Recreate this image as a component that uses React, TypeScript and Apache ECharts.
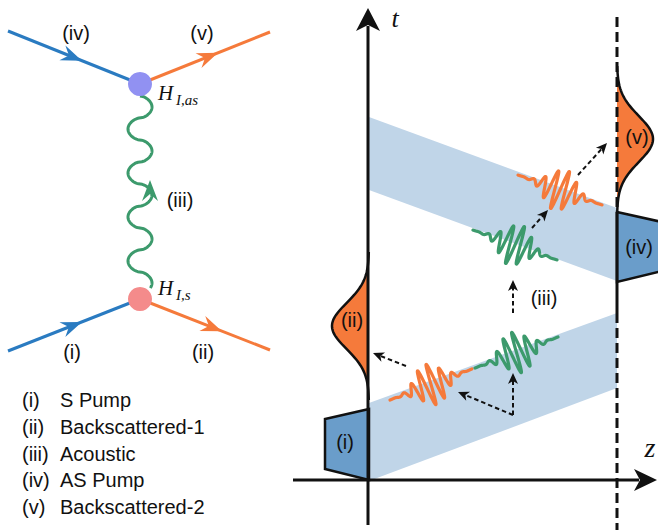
import React, { useEffect, useRef } from 'react';
import * as echarts from 'echarts';

// ---- Diagram values (x to the right, y downwards, on a hidden 658 x 530 value grid) ----
// Feynman diagram: fermion lines [x0, y0, x1, y1, arrow position along line]
const fermionLines = [
  [8, 31, 140, 84, 0.56],
  [140, 84, 270, 32, 0.6],
  [8, 351, 140, 299, 0.56],
  [140, 299, 270, 350, 0.63],
];
const fermionKinds = ['pump', 'back', 'pump', 'back'];
const vertices = [
  [140, 84],
  [140, 299],
];
// phonon line [x, yTop, yBottom, amplitude, wavelength]
const phonon = [140, 96, 288, 12, 44];
const phononArrowY = [180, 201];

// Space-time diagram
const bandUpper = [[369, 117], [617, 208], [617, 281], [369, 190]];
const bandLower = [[369, 481], [617, 388], [617, 313], [369, 403]];
const boxSPump = [[369, 409], [325, 419], [325, 469], [369, 480]];
const boxASPump = [[617, 212], [662, 222], [662, 271], [617, 282]];
// Gaussian pulses [baseX, centreY, sigma, amplitude, yFrom, yTo]
const pulseBack1 = [369, 326, 23, -37, 252, 400];
const pulseBack2 = [617, 139, 23, 36, 66, 212];
// wave packets [x0, y0, x1, y1, amplitude, wavelength, envelope sigma]
const packets = [
  [390, 400, 472, 369, 21, 10.5, 13],
  [475, 368, 558, 337, 21, 10.5, 13],
  [518, 175, 602, 205, 21, 10.5, 13],
  [473, 230, 557, 260, 21, 10.5, 13],
];
const packetKinds = ['back', 'acoustic', 'back', 'acoustic'];
// dashed arrows [x0, y0, tipX, tipY]
const dashedArrows = [
  [532, 228, 548, 210],
  [578, 175, 607, 143],
  [513, 313, 513, 280],
  [513, 415, 513, 373],
  [513, 415, 458, 392],
  [406, 366, 373, 353],
];
// axes
const tAxis = [368, 525, 8];
const zAxis = [480, 293, 657];
const boundary = [617, 17, 530, 212, 313];

// texts
const legendTags = ['(i)', '(ii)', '(iii)', '(iv)', '(v)'];
const legendNames = ['S Pump', 'Backscattered-1', 'Acoustic', 'AS Pump', 'Backscattered-2'];
const feynLabels = ['(iv)', '(v)', '(i)', '(ii)', '(iii)'];
const feynLabelPos = [[76, 33], [202, 33], [72, 352], [203, 352], [180, 200]];
const stLabels = ['(ii)', '(i)', '(iv)', '(v)', '(iii)'];
const stLabelPos = [[352, 320], [345, 442], [639, 247], [637, 137], [544, 298]];

const C = {
  pump: '#2a7bc1',
  back: '#f57a3b',
  acoustic: '#3c9a6c',
  band: '#c0d5e8',
  box: '#6a9dca',
  vTop: '#9191f2',
  vBottom: '#f48b8b',
  ink: '#111111',
};
const SANS = 'Liberation Sans, Arial, sans-serif';
const SERIF = 'Liberation Serif, Times New Roman, serif';

function arrowHead(api: any, tip: number[], ux: number, uy: number, len: number, half: number, notch: number, fill: string) {
  const nx = -uy, ny = ux;
  const bx = tip[0] - ux * len, by = tip[1] - uy * len;
  const pts = [
    [tip[0], tip[1]],
    [bx + nx * half, by + ny * half],
    [tip[0] - ux * notch, tip[1] - uy * notch],
    [bx - nx * half, by - ny * half],
  ].map((p) => api.coord(p));
  return { type: 'polygon', shape: { points: pts }, style: { fill, stroke: null } };
}

function renderAll(params: any, api: any) {
  const ch: any[] = [];
  const P = (x: number, y: number) => api.coord([x, y]);

  // bands
  [bandUpper, bandLower].forEach((b) => {
    ch.push({ type: 'polygon', shape: { points: b.map((p) => P(p[0], p[1])) }, style: { fill: C.band } });
  });
  // pump boxes
  [boxSPump, boxASPump].forEach((b) => {
    ch.push({
      type: 'polygon',
      shape: { points: b.map((p) => P(p[0], p[1])) },
      style: { fill: C.box, stroke: C.ink, lineWidth: 2.5, lineJoin: 'miter' },
    });
  });
  // gaussian pulses
  [pulseBack1, pulseBack2].forEach((g) => {
    const [bx, cy, sg, amp, y0, y1] = g;
    const curve: number[][] = [];
    for (let i = 0; i <= 120; i++) {
      const y = y0 + ((y1 - y0) * i) / 120;
      curve.push(P(bx + amp * Math.exp(-0.5 * ((y - cy) / sg) ** 2), y));
    }
    ch.push({ type: 'polygon', shape: { points: [P(bx, y0), ...curve, P(bx, y1)] }, style: { fill: C.back } });
    ch.push({ type: 'polyline', shape: { points: curve }, style: { fill: 'none', stroke: C.ink, lineWidth: 2.5 } });
  });
  // t axis
  {
    const [x, yb, yt] = tAxis;
    ch.push({ type: 'line', shape: { x1: P(x, yb)[0], y1: P(x, yb)[1], x2: P(x, yt + 18)[0], y2: P(x, yt + 18)[1] }, style: { stroke: C.ink, lineWidth: 3 } });
    ch.push(arrowHead(api, [x, yt], 0, -1, 23, 12, 17, C.ink));
  }
  // z axis
  {
    const [y, xl, xr] = zAxis;
    ch.push({ type: 'line', shape: { x1: P(xl, y)[0], y1: P(xl, y)[1], x2: P(xr - 18, y)[0], y2: P(xr - 18, y)[1] }, style: { stroke: C.ink, lineWidth: 3 } });
    ch.push(arrowHead(api, [xr, y], 1, 0, 23, 11, 17, C.ink));
  }
  // boundary line (dashed / solid / dashed)
  {
    const [x, yt, yb, s0, s1] = boundary;
    const seg = (a: number, b: number, dash: any) =>
      ch.push({ type: 'line', shape: { x1: P(x, a)[0], y1: P(x, a)[1], x2: P(x, b)[0], y2: P(x, b)[1] }, style: { stroke: C.ink, lineWidth: 3, lineDash: dash } });
    seg(yt, s0, [10, 5]);
    seg(s0, s1, null);
    seg(s1, yb, [10, 5]);
  }
  // wave packets
  packets.forEach((p, k) => {
    const [x0, y0, x1, y1, amp, wl, sg] = p;
    const dx = x1 - x0, dy = y1 - y0, L = Math.hypot(dx, dy);
    const ux = dx / L, uy = dy / L, nx = uy, ny = -ux;
    const pts: number[][] = [];
    for (let i = 0; i <= 400; i++) {
      const s = (L * i) / 400;
      const d = s - L / 2;
      const off = amp * Math.exp(-0.5 * (d / sg) ** 2) * Math.sin((2 * Math.PI * d) / wl);
      pts.push(P(x0 + ux * s + nx * off, y0 + uy * s + ny * off));
    }
    ch.push({ type: 'polyline', shape: { points: pts }, style: { fill: 'none', stroke: (C as any)[packetKinds[k]], lineWidth: 3.2, lineJoin: 'round', lineCap: 'round' } });
  });
  // dashed arrows
  dashedArrows.forEach((a) => {
    const [x0, y0, x1, y1] = a;
    const L = Math.hypot(x1 - x0, y1 - y0);
    const ux = (x1 - x0) / L, uy = (y1 - y0) / L;
    const e = P(x1 - ux * 6, y1 - uy * 6);
    const s = P(x0, y0);
    ch.push({ type: 'line', shape: { x1: s[0], y1: s[1], x2: e[0], y2: e[1] }, style: { stroke: C.ink, lineWidth: 2, lineDash: [4.5, 3] } });
    ch.push(arrowHead(api, [x1, y1], ux, uy, 11, 5, 8, C.ink));
  });

  // ---- Feynman diagram ----
  fermionLines.forEach((f, k) => {
    const [x0, y0, x1, y1, fr] = f;
    const col = (C as any)[fermionKinds[k]];
    const a = P(x0, y0), b = P(x1, y1);
    ch.push({ type: 'line', shape: { x1: a[0], y1: a[1], x2: b[0], y2: b[1] }, style: { stroke: col, lineWidth: 3 } });
    const L = Math.hypot(x1 - x0, y1 - y0);
    const ux = (x1 - x0) / L, uy = (y1 - y0) / L;
    ch.push(arrowHead(api, [x0 + (x1 - x0) * fr, y0 + (y1 - y0) * fr], ux, uy, 21, 8, 14, col));
  });
  {
    const [x, yt, yb, amp, wl] = phonon;
    const pts: number[][] = [];
    for (let i = 0; i <= 400; i++) {
      const y = yt + ((yb - yt) * i) / 400;
      const s = Math.sin((2 * Math.PI * (y - yt)) / wl);
      pts.push(P(x + amp * Math.sign(s) * Math.pow(Math.abs(s), 0.55), y));
    }
    ch.push({ type: 'polyline', shape: { points: pts }, style: { fill: 'none', stroke: C.acoustic, lineWidth: 3, lineJoin: 'round' } });
    ch.push(arrowHead(api, [x + 10, phononArrowY[0]], 0, -1, phononArrowY[1] - phononArrowY[0], 8, 14, C.acoustic));
  }
  vertices.forEach((v, k) => {
    const c = P(v[0], v[1]);
    ch.push({ type: 'circle', shape: { cx: c[0], cy: c[1], r: 12 }, style: { fill: k === 0 ? C.vTop : C.vBottom } });
  });

  // ---- texts ----
  const txt = (t: string, x: number, y: number, size: number, family: string, extra: any = {}) => {
    const p = P(x, y);
    ch.push({ type: 'text', x: p[0], y: p[1], style: { text: t, fontSize: size, fontFamily: family, fill: C.ink, align: 'center', verticalAlign: 'middle', ...extra } });
  };
  feynLabels.forEach((t, i) => txt(t, feynLabelPos[i][0], feynLabelPos[i][1], 20, SANS));
  stLabels.forEach((t, i) => txt(t, stLabelPos[i][0], stLabelPos[i][1], 20, SANS));
  legendTags.forEach((t, i) => {
    const y = 400 + i * 26.8;
    txt(t, 22, y, 20, SANS, { align: 'left' });
    txt(legendNames[i], 60, y, 20, SANS, { align: 'left' });
  });
  txt('H', 158, 93, 21, SERIF, { align: 'left', fontStyle: 'italic' });
  txt('I,as', 176, 100, 15, SERIF, { align: 'left', fontStyle: 'italic' });
  txt('H', 158, 288, 21, SERIF, { align: 'left', fontStyle: 'italic' });
  txt('I,s', 176, 295, 15, SERIF, { align: 'left', fontStyle: 'italic' });
  txt('t', 395, 18, 26, SERIF, { fontStyle: 'italic' });
  txt('z', 650, 447, 28, SERIF, { fontStyle: 'italic' });

  return { type: 'group', children: ch };
}

export default function App() {
  const ref = useRef<HTMLDivElement>(null);
  useEffect(() => {
    if (!ref.current) return;
    const chart = echarts.init(ref.current, null, { renderer: 'svg' });
    chart.setOption({
      animation: false,
      backgroundColor: '#ffffff',
      grid: { left: 0, right: 0, top: 0, bottom: 0 },
      xAxis: { type: 'value', min: 0, max: 658, show: false },
      yAxis: { type: 'value', min: 0, max: 530, inverse: true, show: false },
      series: [
        {
          type: 'custom',
          coordinateSystem: 'cartesian2d',
          data: [[0, 0]],
          renderItem: renderAll,
          silent: true,
        },
      ],
    });
    return () => chart.dispose();
  }, []);
  return (
    <div
      ref={ref}
      style={{ position: 'fixed', left: 0, top: 0, width: 658, height: 530, background: '#fff' }}
    />
  );
}
